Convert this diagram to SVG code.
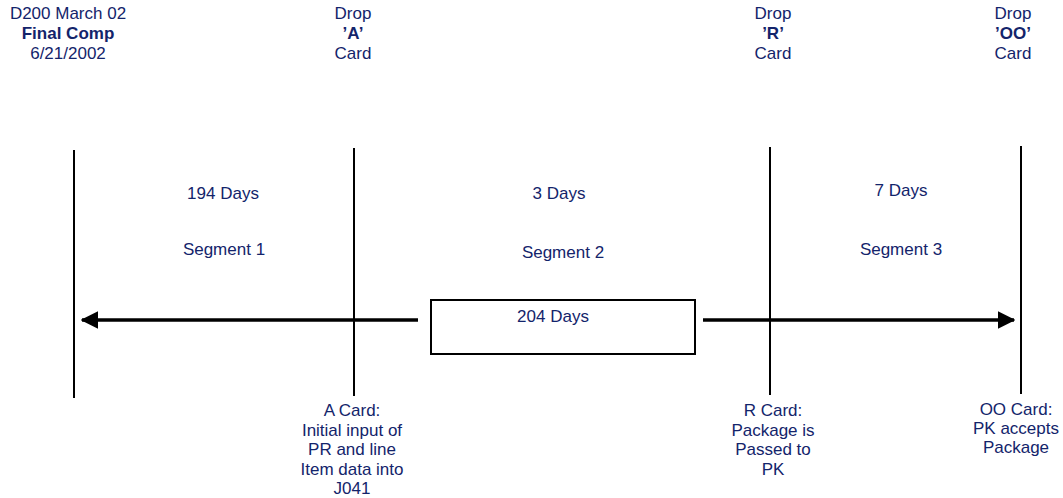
<svg xmlns="http://www.w3.org/2000/svg" width="1063" height="498" viewBox="0 0 1063 498">
<style>
text{font-family:"Liberation Sans",Arial,sans-serif;font-size:17px;fill:#13246b;text-anchor:middle}
.b{font-weight:bold}
.ln{stroke:#000;stroke-width:2;fill:none}
.ar{stroke:#000;stroke-width:3.5;fill:none}
</style>
<defs>
<marker id="ah" markerWidth="5" markerHeight="5" refX="4.6" refY="2.5" orient="auto" markerUnits="strokeWidth"><path d="M0,0 L5,2.5 L0,5 z" fill="#000"/></marker>
</defs>
<g id="title">
<text x="68" y="19">D200 March 02</text>
<text x="68" y="39" class="b">Final Comp</text>
<text x="68" y="59">6/21/2002</text>
</g>
<g id="dropA">
<text x="353" y="19">Drop</text>
<text x="353" y="39" class="b">’A’</text>
<text x="353" y="59">Card</text>
</g>
<g id="dropR">
<text x="773" y="19">Drop</text>
<text x="773" y="39" class="b">’R’</text>
<text x="773" y="59">Card</text>
</g>
<g id="dropOO">
<text x="1013" y="19">Drop</text>
<text x="1013" y="39" class="b">’OO’</text>
<text x="1013" y="59">Card</text>
</g>
<g id="lines">
<line class="ln" x1="74" y1="150" x2="74" y2="398"/>
<line class="ln" x1="354" y1="148" x2="354" y2="396"/>
<line class="ln" x1="770" y1="147" x2="770" y2="395"/>
<line class="ln" x1="1021" y1="146" x2="1021" y2="394"/>
</g>
<g id="seg1">
<text x="223" y="199">194 Days</text>
<text x="224" y="255">Segment 1</text>
</g>
<g id="seg2">
<text x="559" y="199">3 Days</text>
<text x="563" y="258">Segment 2</text>
</g>
<g id="seg3">
<text x="901" y="196">7 Days</text>
<text x="901" y="255">Segment 3</text>
</g>
<g id="total">
<rect x="431" y="300" width="264" height="54" fill="#fff" stroke="#000" stroke-width="2"/>
<text x="553" y="322">204 Days</text>
</g>
<g id="connectors">
<line class="ar" x1="418" y1="320" x2="82" y2="320" marker-end="url(#ah)"/>
<line class="ar" x1="703" y1="320" x2="1014" y2="320" marker-end="url(#ah)"/>
</g>
<g id="cardA">
<text x="352" y="416">A Card:</text>
<text x="352" y="436">Initial input of</text>
<text x="352" y="455">PR and line</text>
<text x="352" y="475">Item data into</text>
<text x="352" y="494">J041</text>
</g>
<g id="cardR">
<text x="773" y="416">R Card:</text>
<text x="773" y="436">Package is</text>
<text x="773" y="455">Passed to</text>
<text x="773" y="475">PK</text>
</g>
<g id="cardOO">
<text x="1016" y="415">OO Card:</text>
<text x="1016" y="434">PK accepts</text>
<text x="1016" y="453">Package</text>
</g>
</svg>
